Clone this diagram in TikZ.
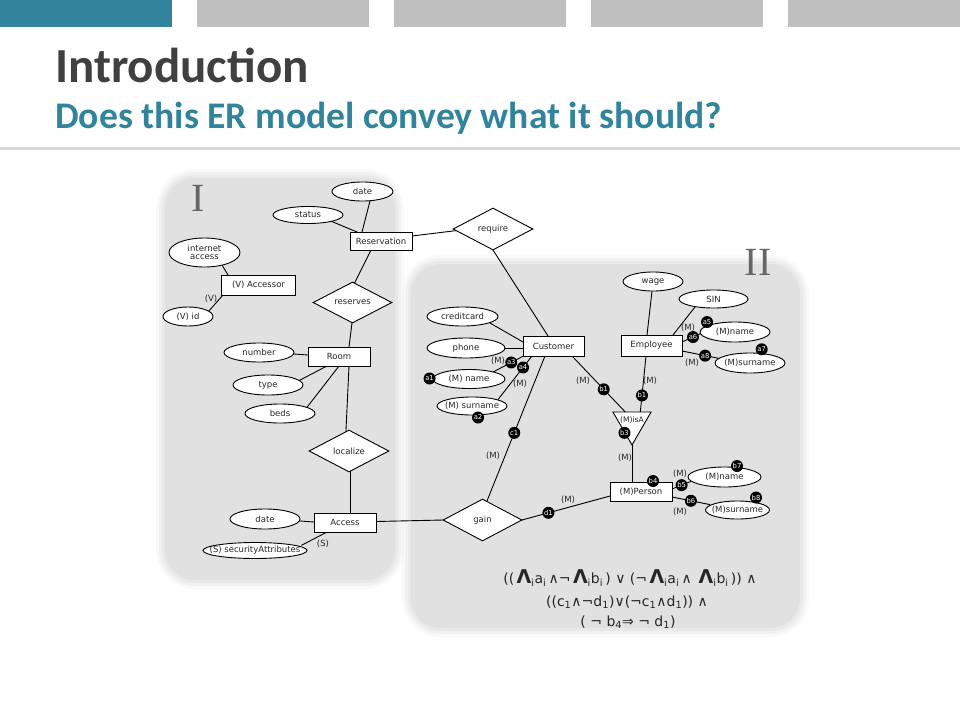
\documentclass[tikz,border=0pt]{standalone}
\usepackage{fontspec}
\setmainfont{DejaVu Sans}
\newfontfamily\calibri{Carlito}
\newfontfamily\romanfont{Liberation Serif}
\usetikzlibrary{shapes.geometric,calc}
\pgfdeclarelayer{regions}
\pgfdeclarelayer{edges}
\pgfsetlayers{regions,edges,main}
\definecolor{tealc}{HTML}{31849B}
\definecolor{barg}{HTML}{BFBFBF}
\definecolor{titleg}{HTML}{404040}
\definecolor{txt}{HTML}{262626}
\newcommand\fs[1]{\fontsize{#1}{#1}\selectfont}
\newcommand\bigL{{\fontsize{19}{19}\selectfont\bfseries Λ}}
\newcommand\ssub[1]{\textsubscript{#1}}
\newcommand\zw[1]{\makebox[0pt]{#1}}
\tikzset{
  ent/.style={draw=black, fill=white, rectangle, line width=0.9pt, inner sep=0pt, font=\fs{8.5}, text=txt},
  rel/.style={draw=black, fill=white, diamond, shape aspect=1.9, line width=0.9pt, inner sep=0pt, minimum width=80pt, minimum height=42pt, font=\fs{8.5}, text=txt},
  attr/.style={draw=black, fill=white, ellipse, line width=0.9pt, inner sep=0pt, font=\fs{8.5}, text=txt, align=center},
  badge/.style={circle, fill=black, text=white, inner sep=0pt, minimum size=12pt, font=\fs{6.8}},
  mlab/.style={font=\fs{8.5}, text=txt, inner sep=0pt},
  conn/.style={line width=0.9pt, shorten <=-3pt, shorten >=-3pt},
}
\begin{document}
\begin{tikzpicture}[x=1pt,y=-1pt]
\useasboundingbox (0,0) rectangle (960,720);
% ---------- background regions
\begin{pgfonlayer}{regions}
\fill[white] (0,0) rectangle (960,720);
\foreach \k/\a in {9/0.025,6/0.03,3/0.03,0/0.03}{
  \pgfmathsetmacro\rr{30+\k}
  \fill[black, opacity=\a, rounded corners=\rr pt] (165-\k,178-\k) rectangle (395+\k,580+\k);
  \fill[black, opacity=\a, rounded corners=\rr pt] (411-\k,264-\k) rectangle (800+\k,628+\k);
}
\end{pgfonlayer}
% ---------- header
\fill[tealc] (0,0) rectangle (172,27);
\fill[barg] (197,0) rectangle (369,27);
\fill[barg] (394,0) rectangle (566,27);
\fill[barg] (591,0) rectangle (763,27);
\fill[barg] (788,0) rectangle (960,27);
\fill[black!15] (0,147) rectangle (960,150);
\node[anchor=base west, inner sep=0pt, font=\calibri\bfseries\fontsize{49}{49}\selectfont, text=titleg] (title) at (55,82) {Introduction};
\node[anchor=base west, inner sep=0pt, font=\calibri\bfseries\fontsize{37.6}{37.6}\selectfont, text=tealc] (subtitle) at (55,128) {Does this ER model convey what it should?};
% ---------- region labels
\node[font=\romanfont\fontsize{40}{40}\selectfont, text=black!60, inner sep=0pt] (rI) at (198,198) {I};
\node[font=\romanfont\fontsize{40}{40}\selectfont, text=black!60, inner sep=0pt] (rII) at (758,262) {II};
% ---------- entities
\node[ent, minimum width=62pt, minimum height=18pt] (res) at (381,241) {Reservation};
\node[ent, minimum width=74pt, minimum height=20pt] (acc) at (258.5,285) {(V) Accessor};
\node[ent, minimum width=62pt, minimum height=19pt] (room) at (339,356.5) {Room};
\node[ent, minimum width=62pt, minimum height=19pt] (access) at (345,522.5) {Access};
\node[ent, minimum width=61pt, minimum height=20pt] (cust) at (553.5,346) {Customer};
\node[ent, minimum width=61pt, minimum height=21pt] (emp) at (651.5,345.5) {Employee};
\node[ent, minimum width=62pt, minimum height=19pt] (per) at (641,491.5) {(M)Person};
% ---------- relationships
\node[rel] (req) at (493,229) {require};
\node[rel, minimum width=79pt, minimum height=41pt] (rsv) at (352.5,302.5) {reserves};
\node[rel] (loc) at (349,451) {localize};
\node[rel, minimum width=79pt] (gain) at (482.5,520) {gain};
\node[regular polygon, regular polygon sides=3, shape border rotate=180, draw=black, fill=white, line width=0.9pt, minimum size=44pt, inner sep=0pt] (isa) at (632,423) {};
\node[font=\fs{7.6}, text=txt, inner sep=0pt] (isalab) at (632,420) {(M)isA};
% ---------- attributes
\node[attr, minimum width=61pt, minimum height=19pt] (dateT) at (362.5,191.5) {\zw{date}};
\node[attr, minimum width=70pt, minimum height=17pt] (status) at (308,215) {\zw{status}};
\node[attr, minimum width=71pt, minimum height=29pt] (inet) at (204.5,252.5) {\zw{\shortstack{internet\\access}}};
\node[attr, minimum width=50pt, minimum height=19pt] (vid) at (188,316.5) {\zw{(V) id}};
\node[attr, minimum width=70pt, minimum height=19pt] (number) at (259,352.5) {\zw{number}};
\node[attr, minimum width=70pt, minimum height=20pt] (type) at (268,385) {\zw{type}};
\node[attr, minimum width=70pt, minimum height=19pt] (beds) at (280,413.5) {\zw{beds}};
\node[attr, minimum width=70pt, minimum height=20pt] (dateB) at (265,519) {\zw{date}};
\node[attr, minimum width=104pt, minimum height=16pt] (sec) at (255,550.5) {\zw{(S) securityAttributes}};
\node[attr, minimum width=71pt, minimum height=19pt] (credit) at (462.5,316.5) {\zw{creditcard}};
\node[attr, minimum width=78pt, minimum height=20pt] (phone) at (466,348) {\zw{phone}};
\node[attr, minimum width=72pt, minimum height=19pt] (cname) at (469,379) {\zw{(M) name}};
\node[attr, minimum width=70pt, minimum height=18pt] (csur) at (472,406) {\zw{(M) surname}};
\node[attr, minimum width=60pt, minimum height=19pt] (wage) at (653,281.5) {\zw{wage}};
\node[attr, minimum width=69pt, minimum height=18pt] (sin) at (713.5,299) {\zw{SIN}};
\node[attr, minimum width=70pt, minimum height=20pt] (ename) at (735,332) {\zw{(M)name}};
\node[attr, minimum width=70pt, minimum height=20pt] (esur) at (750,363) {\zw{(M)surname}};
\node[attr, minimum width=73pt, minimum height=20pt] (pname) at (724.5,477) {\zw{(M)name}};
\node[attr, minimum width=64pt, minimum height=18pt] (psur) at (737.5,510) {\zw{(M)surname}};
% ---------- connectors
\begin{pgfonlayer}{edges}
\draw[conn] ([shift={(7.5,9.5)}]dateT.center) -- ([shift={(-19,-9)}]res.center);
\draw[conn] ([shift={(25,7)}]status.center) -- ([shift={(-24,-9)}]res.center);
\draw[conn] ([shift={(-10,9)}]res.center) -- ([shift={(2.5,-20.5)}]rsv.center);
\draw[conn] ([shift={(31,-5)}]res.center) -- ([shift={(-40,2)}]req.center);
\draw[conn] ([shift={(0,21)}]req.center) -- ([shift={(-5.5,-10)}]cust.center);
\draw[conn] ([shift={(17.5,12.5)}]inet.center) -- ([shift={(-30.5,-10)}]acc.center);
\draw[conn] ([shift={(-35.5,10)}]acc.center) -- ([shift={(20,-4.5)}]vid.center);
\draw[conn] ([shift={(-0.5,20.5)}]rsv.center) -- ([shift={(10,-9.5)}]room.center);
\draw[conn] ([shift={(35,1.5)}]number.center) -- ([shift={(-31,-1.5)}]room.center);
\draw[conn] ([shift={(34,-6)}]type.center) -- ([shift={(-12,9.5)}]room.center);
\draw[conn] ([shift={(28,-7.5)}]beds.center) -- ([shift={(0,9.5)}]room.center);
\draw[conn] ([shift={(10,9.5)}]room.center) -- ([shift={(-3,-21)}]loc.center);
\draw[conn] ([shift={(1,21)}]loc.center) -- ([shift={(5,-9.5)}]access.center);
\draw[conn] ([shift={(35,2)}]dateB.center) -- ([shift={(-31,-0.5)}]access.center);
\draw[conn] ([shift={(49,-6.5)}]sec.center) -- ([shift={(-18,9.5)}]access.center);
\draw[conn] ([shift={(31,-1)}]access.center) -- ([shift={(-39.5,0)}]gain.center);
\draw[conn] ([shift={(27.5,6.5)}]credit.center) -- ([shift={(-30.5,-4)}]cust.center);
\draw[conn] ([shift={(39,0)}]phone.center) -- ([shift={(-30.5,2)}]cust.center);
\draw[conn] ([shift={(26,-8)}]cname.center) -- node[badge, pos=0.57] (a3) {a3} ([shift={(-30,10)}]cust.center);
\draw[conn] ([shift={(28,-9)}]csur.center) -- node[badge, pos=0.72] (a4) {a4} ([shift={(-21.5,10)}]cust.center);
\draw[conn] ([shift={(-8.5,10)}]cust.center) -- node[badge, pos=0.53] (c1) {c1} ([shift={(4.5,-19)}]gain.center);
\draw[conn] ([shift={(18.5,10)}]cust.center) -- node[badge, pos=0.6] (b1a) {b1} ($(isa.corner 3)!0.32!(isa.corner 2)$);
\draw[conn] ([shift={(-5.5,10.5)}]emp.center) -- node[badge, pos=0.71] (b1b) {b1} ($(isa.corner 3)!0.71!(isa.corner 2)$);
\draw[conn] (isa.corner 1) -- (isa.corner 1 |- per.north);
\draw[conn] ([shift={(31,-2.5)}]per.center) -- node[badge, pos=0.48] (b5) {b5} ([shift={(-32.5,4)}]pname.center);
\draw[conn] ([shift={(31,5.5)}]per.center) -- node[badge, pos=0.54] (b6) {b6} ([shift={(-30.5,-6)}]psur.center);
\draw[conn] ([shift={(39.5,0)}]gain.center) -- node[badge, pos=0.3] (d1) {d1} ([shift={(-31,4.5)}]per.center);
\draw[conn] ([shift={(-1,9.5)}]wage.center) -- ([shift={(-4.5,-10.5)}]emp.center);
\draw[conn] ([shift={(-18.5,8)}]sin.center) -- ([shift={(21.5,-10.5)}]emp.center);
\draw[conn] ([shift={(30.5,-3.5)}]emp.center) -- node[badge, pos=0.55] (a6) {a6} ([shift={(-33,1)}]ename.center);
\draw[conn] ([shift={(30.5,5.5)}]emp.center) -- node[badge, pos=0.66] (a8) {a8} ([shift={(-33,-5)}]esur.center);
\end{pgfonlayer}
% ---------- badges on shapes
\node[badge] (a1) at ([shift={(-3,-0.5)}]cname.west) {a1};
\node[badge] (a2) at ([shift={(6,11.5)}]csur.center) {a2};
\node[badge] (b3) at ($(isa.corner 3)!0.62!(isa.corner 1)$) {b3};
\node[badge] (b4) at ([shift={(12,-10.5)}]per.center) {b4};
\node[badge] (b7) at ([shift={(12.5,-11)}]pname.center) {b7};
\node[badge] (b8) at ([shift={(18.5,-12.5)}]psur.center) {b8};
\node[badge] (a5) at ([shift={(-28,-10)}]ename.center) {a5};
\node[badge] (a7) at ([shift={(11.7,-13.7)}]esur.center) {a7};
% ---------- cardinality labels
\node[mlab] (mA) at (498,361) {(M)};
\node[mlab] (mB) at (520,384) {(M)};
\node[mlab] (mC) at (583,381) {(M)};
\node[mlab] (mD) at (493,456) {(M)};
\node[mlab] (mE) at (650,381) {(M)};
\node[mlab] (mF) at (625,458) {(M)};
\node[mlab] (mG) at (688,328) {(M)};
\node[mlab] (mH) at (692,363) {(M)};
\node[mlab] (mI) at (680,474) {(M)};
\node[mlab] (mJ) at (680,512) {(M)};
\node[mlab] (mK) at (568,500) {(M)};
\node[mlab] (vL) at (211,299) {(V)};
\node[mlab] (sL) at (323,544) {(S)};
% ---------- formula
\node[font=\fs{14}, text=txt, inner sep=0pt] (f1) at (630,578) {((\,\bigL\ssub{i}a\ssub{i}\,∧¬\,\bigL\ssub{i}b\ssub{i}\,) ∨ (¬\,\bigL\ssub{i}a\ssub{i}\,∧\, \bigL\ssub{i}b\ssub{i}\,)) ∧};
\node[font=\fs{14}, text=txt, inner sep=0pt] (f2) at (627,602) {((c\ssub{1}∧¬d\ssub{1})∨(¬c\ssub{1}∧d\ssub{1})) ∧};
\node[font=\fs{14}, text=txt, inner sep=0pt] (f3) at (628,622) {( ¬ b\ssub{4}⇒ ¬ d\ssub{1})};
\end{tikzpicture}
\end{document}
